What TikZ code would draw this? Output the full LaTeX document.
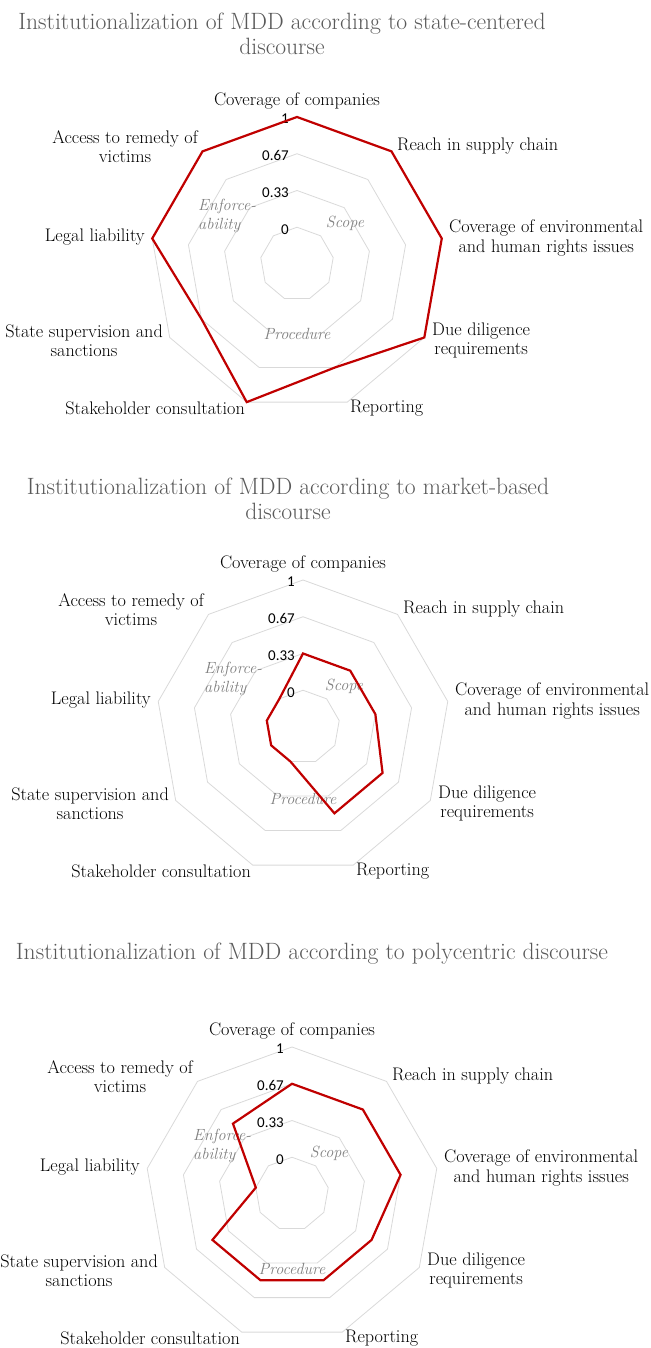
\documentclass[tikz,border=0pt]{standalone}
\usepackage{fontspec}
\newfontfamily\numfont{Carlito}
\usetikzlibrary{positioning}
\definecolor{ringgray}{HTML}{D9D9D9}
\definecolor{scorered}{HTML}{C00000}
\definecolor{titlegray}{HTML}{595959}
\definecolor{groupgray}{HTML}{808080}
\tikzset{
	ringline/.style={draw=ringgray, line width=0.8pt},
	scoreline/.style={draw=scorered, line width=2.2pt},
	axislabel/.style={inner sep=0pt, align=center, font=\fontsize{18.2}{19.5}\selectfont},
	ticklabel/.style={inner sep=0pt, anchor=east, font=\numfont\fontsize{15}{16}\selectfont},
	grouplabel/.style={inner sep=0pt, text=groupgray, font=\itshape\fontsize{16.2}{19}\selectfont},
	charttitle/.style={inner sep=0pt, align=center, text=titlegray, font=\fontsize{23.6}{24.5}\selectfont},
}

\begin{document}
\begin{tikzpicture}[x=1pt,y=1pt]
	\useasboundingbox (0,0) rectangle (650,1348);
	\foreach \n/\cx/\cy/\tx/\ty/\sx/\py/\ttl/\vals in {
		1/297/1084/282/1314/48/-70/{Institutionalization of MDD according to state-centered\\discourse}/{4,4,4,4,3,4,3,4,4},
		2/303/621/288/849/41/-72/{Institutionalization of MDD according to market-based\\discourse}/{2,2,2,2.5,2.5,1,1,1,1},
		3/292/154/312/394/37/-75/{Institutionalization of MDD according to polycentric discourse}/{3,3,3,2.5,2.5,2.5,2.5,1,2.5}}{
		\node[charttitle] (title\n) at (\tx,\ty) {\ttl};
		\begin{scope}[shift={(\cx,\cy)}]
			\coordinate (c\n) at (0,0);
			\foreach \r in {1,...,4}
				\draw[ringline] (90:36.75*\r) \foreach \a in {1,...,8}{ -- (90-40*\a:36.75*\r)} -- cycle;
			\foreach \r/\t in {1/0,2/0.33,3/0.67,4/1}
				\node[ticklabel] (tick\n-\r) at (-8,36.75*\r-2) {\t};
			\node[grouplabel, align=left, anchor=west] (enf\n) at (-99,48) {Enforce-\\ability};
			\node[grouplabel] (scope\n) at (\sx,41) {Scope};
			\node[grouplabel] (proc\n) at (0,\py) {Procedure};
			\foreach \u [count=\k] in \vals
				\coordinate (p\n-\k) at (130-40*\k:36.75*\u);
			\draw[scoreline] (p\n-1) \foreach \k in {2,...,9}{ -- (p\n-\k)} -- cycle;
			\foreach \k/\anc/\dx/\dy/\txt in {
				1/center/0/163/Coverage of companies,
				2/west/100/118/Reach in supply chain,
				3/west/152/26/{Coverage of environmental\\and human rights issues},
				4/west/135/-76.5/{Due diligence\\requirements},
				5/west/53/-144/Reporting,
				6/east/-52/-144/Stakeholder consultation,
				7/east/-134/-76.5/{State supervision and\\sanctions},
				8/east/-152/27/Legal liability,
				9/east/-99/117.5/{Access to remedy of\\victims}}
				\node[axislabel, anchor=\anc] (lab\n-\k) at (\dx,\dy) {\txt};
		\end{scope}
	}
\end{tikzpicture}
\end{document}
